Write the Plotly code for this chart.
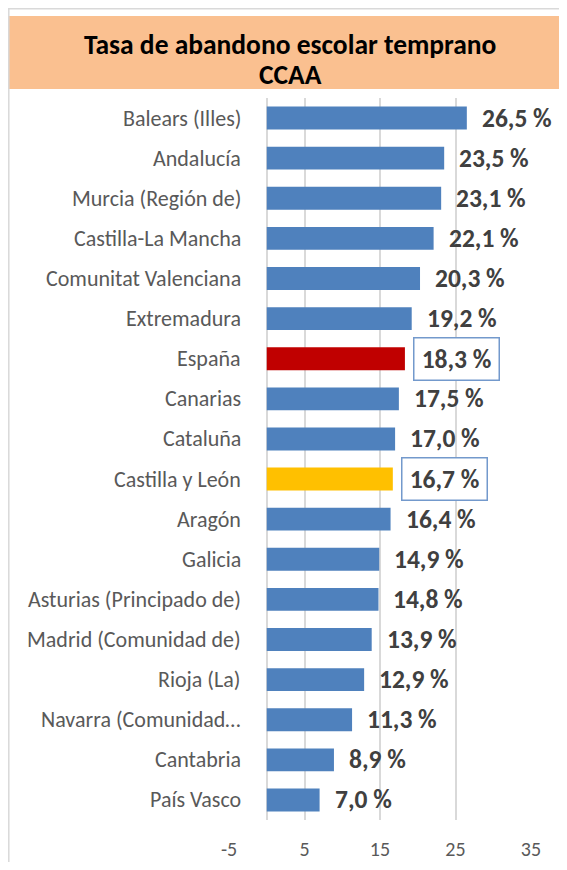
import plotly.graph_objects as go

categories = ["Balears (Illes)", "Andalucía", "Murcia (Región de)", "Castilla-La Mancha",
              "Comunitat Valenciana", "Extremadura", "España", "Canarias", "Cataluña",
              "Castilla y León", "Aragón", "Galicia", "Asturias (Principado de)",
              "Madrid (Comunidad de)", "Rioja (La)", "Navarra (Comunidad…", "Cantabria",
              "País Vasco"]
values = [26.5, 23.5, 23.1, 22.1, 20.3, 19.2, 18.3, 17.5, 17.0, 16.7, 16.4, 14.9, 14.8,
          13.9, 12.9, 11.3, 8.9, 7.0]
highlight = {"España": "#C00000", "Castilla y León": "#FFC000"}
boxed = ["España", "Castilla y León"]
x_ticks = [-5, 5, 15, 25, 35]
title_lines = ["Tasa de abandono escolar temprano", "CCAA"]

# page has an 8px body margin; figure coords = page coords - 8
OFF = 8
W, H = 559, 854
L, R, T, B = 221, 36, 90, 42
PW, PH = W - L - R, H - T - B

def px_x(p):
    return (p - OFF - L) / PW

def px_y(p):
    return (H - B - (p - OFF)) / PH

FONT = "Carlito, Lato, sans-serif"
colors = [highlight.get(c, "#4F81BD") for c in categories]

fig = go.Figure(go.Bar(
    x=values, y=categories, orientation="h", marker_color=colors,
    marker_line_width=0, width=0.57, hoverinfo="skip"))

ann = []
for c, v in zip(categories, values):
    ann.append(dict(x=-3.2, y=c, xref="x", yref="y", text=c, showarrow=False,
                    xanchor="right", yanchor="middle",
                    font=dict(family=FONT, size=22, color="#595959")))
    lbl = "<b>" + f"{v:.1f}".replace(".", ",") + " %</b>"
    if c in boxed:
        ann.append(dict(x=v, y=c, xref="x", yref="y", text=lbl, showarrow=False,
                        xanchor="left", yanchor="middle", xshift=8, width=74,
                        align="center",
                        bordercolor="#7399CC", borderwidth=1.5, borderpad=5,
                        bgcolor="white",
                        font=dict(family=FONT, size=25.5, color="#404040")))
    else:
        ann.append(dict(x=v, y=c, xref="x", yref="y", text=lbl, showarrow=False,
                        xanchor="left", yanchor="middle", xshift=13,
                        font=dict(family=FONT, size=25.5, color="#404040")))

for line, py in zip(title_lines, [45, 75]):
    ann.append(dict(x=px_x(290), y=px_y(py), xref="paper", yref="paper",
                    text="<b>" + line + "</b>",
                    showarrow=False, xanchor="center", yanchor="middle",
                    font=dict(family=FONT, size=27.5, color="#000000")))

shapes = [
    dict(type="rect", xref="paper", yref="paper", x0=px_x(6), x1=px_x(570),
         y0=px_y(89), y1=px_y(16), fillcolor="#FAC090", line_width=0, layer="below"),
    dict(type="line", xref="paper", yref="paper", x0=px_x(8), x1=px_x(570),
         y0=px_y(8.8), y1=px_y(8.8), line=dict(color="#D9D9D9", width=1.5)),
    dict(type="line", xref="paper", yref="paper", x0=px_x(8.8), x1=px_x(8.8),
         y0=px_y(8), y1=px_y(870), line=dict(color="#D9D9D9", width=1.5)),
]

fig.update_layout(
    width=W, height=H, margin=dict(l=L, r=R, t=T, b=B, autoexpand=False),
    paper_bgcolor="white", plot_bgcolor="white", showlegend=False,
    annotations=ann, shapes=shapes, bargap=0.43,
    xaxis=dict(range=[-5, 35], tickvals=x_ticks, ticktext=[str(t) for t in x_ticks],
               showgrid=True, gridcolor="#D9D9D9", gridwidth=1.5,
               zeroline=True, zerolinecolor="#D9D9D9", zerolinewidth=1.5,
               showline=False, ticks="", ticklabelstandoff=15, automargin=False,
               tickfont=dict(family=FONT, size=20, color="#595959"), fixedrange=True),
    yaxis=dict(categoryorder="array", categoryarray=categories[::-1],
               range=[-0.5, len(categories) - 0.5], showticklabels=False,
               automargin=False,
               showgrid=False, zeroline=False, showline=False, ticks="", fixedrange=True),
)

fig.write_html("out.html")
